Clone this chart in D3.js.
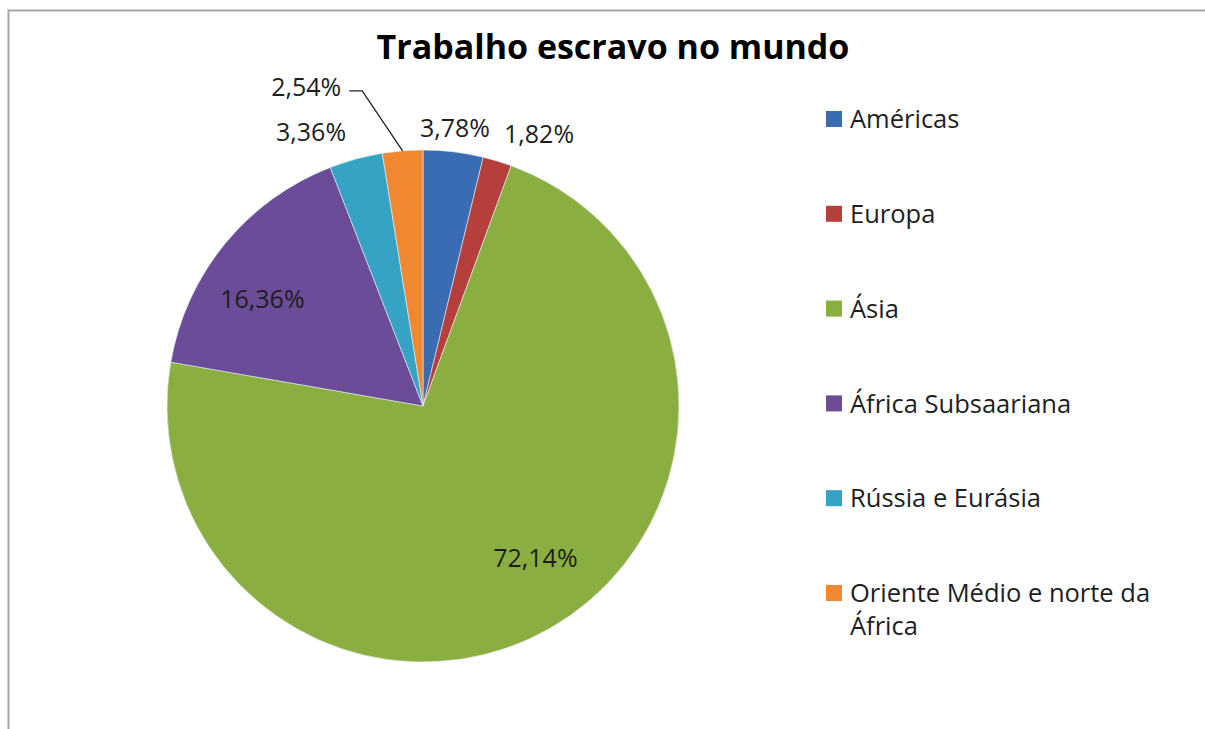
<!DOCTYPE html>
<html>
<head>
<meta charset="utf-8">
<script src="https://cdn.jsdelivr.net/npm/d3@7"></script>
<style>
  html, body { margin: 0; padding: 0; background: #fff; }
  svg { display: block; }
</style>
</head>
<body>
<script>
// Regions and their share of forced labour (%)
const regions = ["Américas", "Europa", "Ásia", "África Subsaariana", "Rússia e Eurásia", "Oriente Médio e norte da África"];
const shares = [3.78, 1.82, 72.14, 16.36, 3.36, 2.54];
const valueLabels = ["3,78%", "1,82%", "72,14%", "16,36%", "3,36%", "2,54%"];
const sliceColors = ["#3a6cb3", "#b53f3b", "#8aae40", "#6b4c99", "#37a3c4", "#ef8830"];

const W = 1205, H = 729;
const cx = 423, cy = 406, R = 256;

const svg = d3.select("body").append("svg")
  .attr("width", W).attr("height", H);

// Chart-area frame
svg.append("path")
  .attr("d", `M8.5,${H} L8.5,10.5 L${W},10.5`)
  .attr("fill", "none")
  .attr("stroke", "#a6a6a6")
  .attr("stroke-width", 2);

svg.append("text")
  .attr("x", 613).attr("y", 59)
  .attr("text-anchor", "middle")
  .attr("font-family", "'Open Sans', sans-serif")
  .attr("font-weight", "bold")
  .attr("font-size", 34)
  .attr("fill", "#000")
  .text("Trabalho escravo no mundo");

const data = regions.map((r, i) => ({ region: r, value: shares[i], label: valueLabels[i], color: sliceColors[i] }));

const pie = d3.pie().value(d => d.value).sort(null);
const arcs = pie(data);
const arc = d3.arc().innerRadius(0).outerRadius(R);

const g = svg.append("g").attr("transform", `translate(${cx},${cy})`);

g.selectAll("path.slice")
  .data(arcs)
  .enter().append("path")
  .attr("class", "slice")
  .attr("d", arc)
  .attr("fill", d => d.data.color)
  .attr("stroke", "#e8eef6")
  .attr("stroke-width", 0.6);

// Label placement: inside slices for the two large shares, outside otherwise
const insideArc = d3.arc().innerRadius(R * 0.73).outerRadius(R * 0.73);
const outsideArc = d3.arc().innerRadius(R + 30).outerRadius(R + 30);
const nudges = {
  "Américas": [-2, 5],
  "Europa": [33, 1],
  "Ásia": [19, -11],
  "África Subsaariana": [-16, 10],
  "Rússia e Eurásia": [-37, 1],
  "Oriente Médio e norte da África": [-94, -35]
};

const labelPos = d => {
  const inside = d.data.value > 10;
  const p = (inside ? insideArc : outsideArc).centroid(d);
  const n = nudges[d.data.region];
  return [p[0] + n[0], p[1] + n[1]];
};

// Leader line for the small orange slice
const orange = arcs[5];
const mid = (orange.startAngle + orange.endAngle) / 2;
const edge = [Math.sin(mid) * R, -Math.cos(mid) * R];
const lp = labelPos(orange);
g.append("polyline")
  .attr("points", [[lp[0] + 43, lp[1] + 5], [lp[0] + 56, lp[1] + 5], [edge[0], edge[1]]].map(p => p.join(",")).join(" "))
  .attr("fill", "none")
  .attr("stroke", "#222")
  .attr("stroke-width", 1.3);

g.selectAll("text.val")
  .data(arcs)
  .enter().append("text")
  .attr("class", "val")
  .attr("x", d => labelPos(d)[0])
  .attr("y", d => labelPos(d)[1])
  .attr("text-anchor", "middle")
  .attr("dominant-baseline", "central")
  .attr("font-family", "'Open Sans', sans-serif")
  .attr("font-size", 25)
  .attr("fill", "#1e1e1e")
  .text(d => d.data.label);

// Legend
const legend = svg.append("g").attr("transform", "translate(826,0)");
const legendY = d3.scalePoint().domain(regions).range([119, 593]);
const items = legend.selectAll("g.item")
  .data(data)
  .enter().append("g")
  .attr("class", "item")
  .attr("transform", d => `translate(0,${legendY(d.region)})`);

items.append("rect")
  .attr("x", 0).attr("y", -8)
  .attr("width", 16).attr("height", 16)
  .attr("fill", d => d.color);

items.append("text")
  .attr("x", 24)
  .attr("font-family", "'Open Sans', sans-serif")
  .attr("font-size", 25.5)
  .attr("fill", "#1e1e1e")
  .each(function(d) {
    const words = d.region === "Oriente Médio e norte da África"
      ? ["Oriente Médio e norte da", "África"] : [d.region];
    const t = d3.select(this);
    words.forEach((w, i) => {
      t.append("tspan").attr("x", 24).attr("dy", i === 0 ? "0.36em" : 33).text(w);
    });
  });
</script>
</body>
</html>
